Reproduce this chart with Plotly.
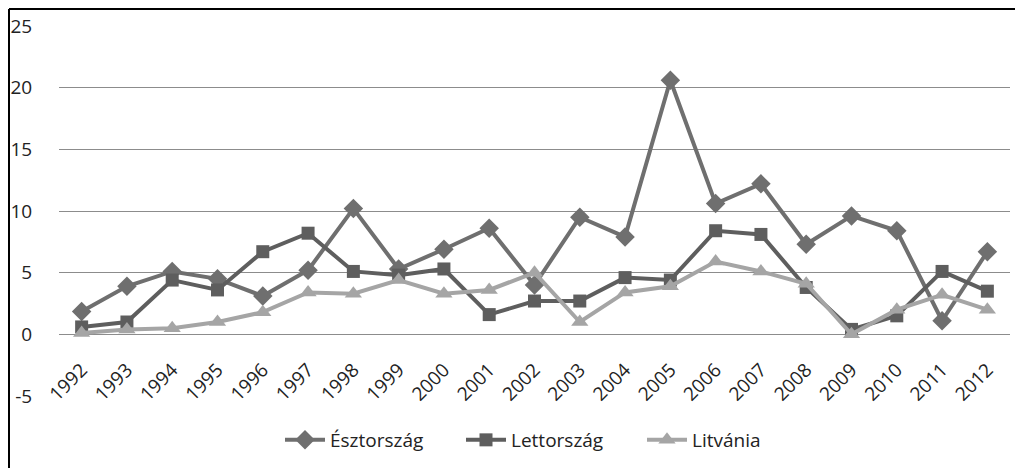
import plotly.graph_objects as go

years = [str(y) for y in range(1992, 2013)]
esztorszag = [1.85, 3.9, 5.1, 4.5, 3.1, 5.2, 10.2, 5.3, 6.9, 8.6, 4.0, 9.5, 7.9, 20.6, 10.6, 12.2, 7.3, 9.6, 8.4, 1.1, 6.7]
lettorszag = [0.6, 1.0, 4.4, 3.6, 6.7, 8.2, 5.1, 4.8, 5.3, 1.6, 2.7, 2.7, 4.6, 4.4, 8.4, 8.1, 3.8, 0.4, 1.5, 5.1, 3.5]
litvania = [0.1, 0.4, 0.5, 1.0, 1.8, 3.4, 3.3, 4.4, 3.3, 3.6, 5.0, 1.0, 3.4, 3.9, 5.9, 5.1, 4.1, 0.0, 2.0, 3.2, 2.0]
y_ticks = [-5, 0, 5, 10, 15, 20, 25]
y_ticklabels = ["-5", "0", "5", "10", "15", "20", "25"]

W, H = 1023, 468
# the page body adds an 8px offset, so the plot box is pulled up/left by that much
off = 8
ml, mt = 59 - off, 26 - off
pw, ph = 951, 370
mr, mb = W - ml - pw, H - mt - ph

font = dict(family="Open Sans", size=19, color="#222222")
clear = "rgba(0,0,0,0)"

fig = go.Figure()
fig.add_trace(go.Scatter(x=years, y=esztorszag, name="Észtország", mode="lines+markers",
                         line=dict(color="#6f6f6f", width=4),
                         marker=dict(symbol="diamond", size=15, color="#6f6f6f")))
fig.add_trace(go.Scatter(x=years, y=lettorszag, name="Lettország", mode="lines+markers",
                         line=dict(color="#5e5e5e", width=4),
                         marker=dict(symbol="square", size=13, color="#5e5e5e")))
fig.add_trace(go.Scatter(x=years, y=litvania, name="Litvánia", mode="lines+markers",
                         line=dict(color="#a5a5a5", width=4),
                         marker=dict(symbol="triangle-up", size=15, color="#a5a5a5")))

# outer frame (top and left edges only, as in the cropped original)
fx = (1 - ml) / pw
fy = (ph + mt - 1) / ph
fig.add_shape(type="line", xref="paper", yref="paper", x0=fx, x1=(W + 5 - ml) / pw, y0=fy, y1=fy,
              line=dict(color="black", width=2))
fig.add_shape(type="line", xref="paper", yref="paper", x0=fx, x1=fx, y0=fy, y1=-(mb + 5) / ph,
              line=dict(color="black", width=2))

fig.update_layout(
    width=W, height=H,
    margin=dict(l=ml, r=mr, t=mt, b=mb, autoexpand=False),
    paper_bgcolor="white", plot_bgcolor="white",
    font=font,
    showlegend=True,
    legend=dict(orientation="h", xref="container", x=(280 - off) / W, xanchor="left",
                yref="container", y=(H - (440 - off)) / H, yanchor="middle",
                font=font, itemwidth=40, entrywidth=126, entrywidthmode="pixels",
                traceorder="normal"),
    xaxis=dict(type="category", range=[-0.5, len(years) - 0.5], tickangle=-45, showgrid=False,
               zeroline=False, showline=False,
               anchor="free", position=5 / 30, ticks="outside", ticklen=16, tickcolor=clear,
               tickfont=font, automargin=False),
    yaxis=dict(range=[-5, 25], tickvals=y_ticks, ticktext=y_ticklabels,
               showgrid=True, gridcolor="#8c8c8c", gridwidth=1,
               zeroline=False, showline=False, ticks="outside", ticklen=22, tickcolor=clear,
               tickfont=font, automargin=False),
)

fig.write_html("out.html")
